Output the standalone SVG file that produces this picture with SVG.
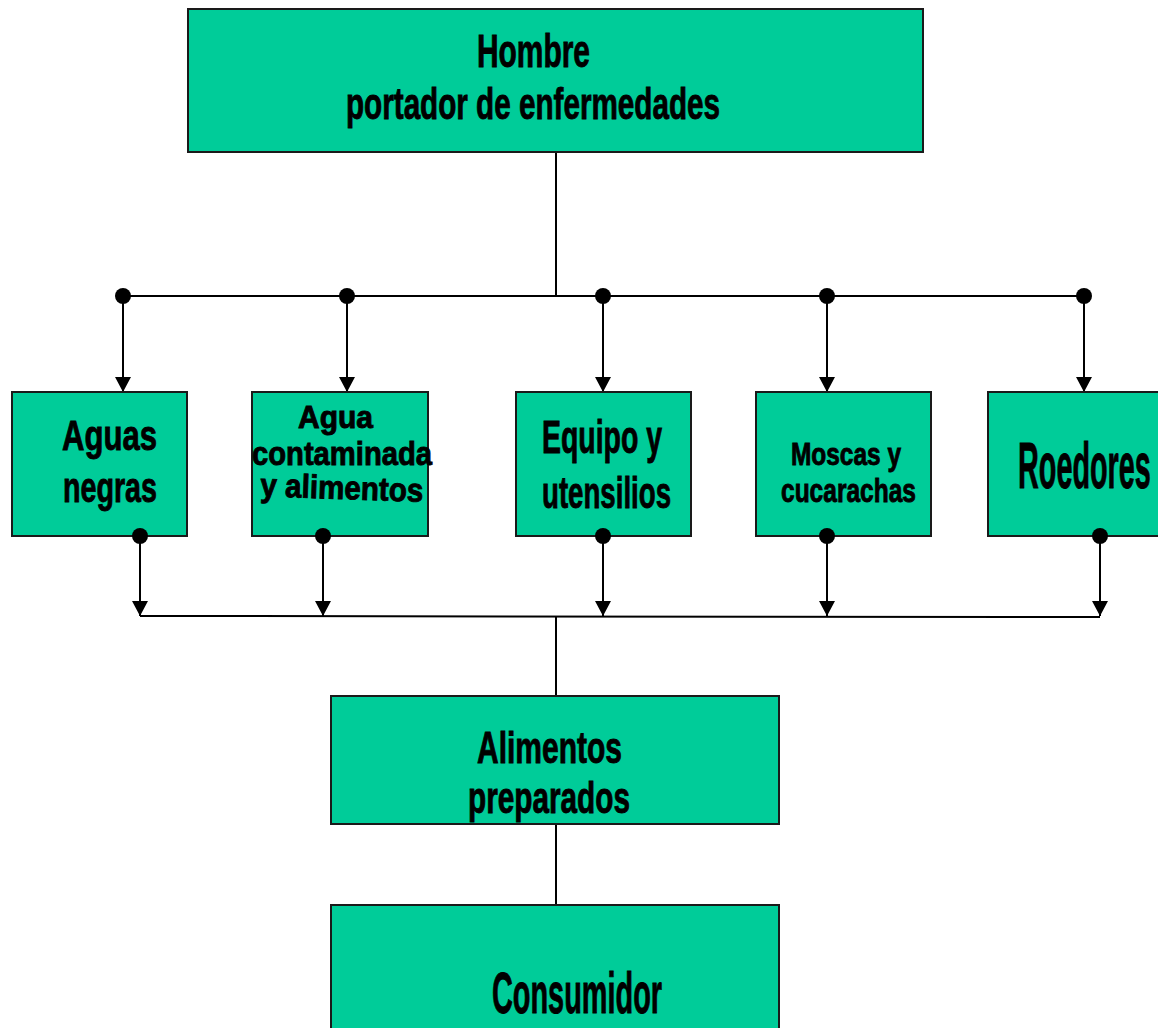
<svg xmlns="http://www.w3.org/2000/svg" width="1158" height="1028" viewBox="0 0 1158 1028">
  <style>
    .box { fill: #00CC99; stroke: #1a1a1a; stroke-width: 2; }
    .lbl { font-family: "Liberation Sans", Arial, sans-serif; font-weight: bold; fill: #000; stroke: #000; stroke-width: 0.9; }
    .wire { stroke: #000; stroke-width: 2; fill: none; }
    .arrow { stroke: #000; stroke-width: 2; fill: none; marker-end: url(#head); }
    .dot { fill: #000; }
  </style>
  <defs>
    <marker id="head" markerUnits="userSpaceOnUse" markerWidth="16" markerHeight="16" refX="15" refY="8" orient="auto">
      <path d="M0,0 L15,8 L0,16 Z" fill="#000"/>
    </marker>
  </defs>
  <rect width="1158" height="1028" fill="#fff"/>

  <!-- connectors: fan-out from the source, fan-in to the prepared food -->
  <g id="connectors">
    <line class="wire" x1="556" y1="152" x2="556" y2="296"/>
    <line class="wire" x1="123" y1="296" x2="1084" y2="296"/>
    <line class="arrow" x1="123" y1="296" x2="123" y2="392"/>
    <line class="arrow" x1="347" y1="296" x2="347" y2="392"/>
    <line class="arrow" x1="603" y1="296" x2="603" y2="392"/>
    <line class="arrow" x1="827" y1="296" x2="827" y2="392"/>
    <line class="arrow" x1="1084" y1="296" x2="1084" y2="392"/>
    <circle class="dot" cx="123" cy="296" r="8"/>
    <circle class="dot" cx="347" cy="296" r="8"/>
    <circle class="dot" cx="603" cy="296" r="8"/>
    <circle class="dot" cx="827" cy="296" r="8"/>
    <circle class="dot" cx="1084" cy="296" r="8"/>

    <line class="arrow" x1="140" y1="536" x2="140" y2="616"/>
    <line class="arrow" x1="323" y1="536" x2="323" y2="616"/>
    <line class="arrow" x1="603" y1="536" x2="603" y2="616"/>
    <line class="arrow" x1="827" y1="536" x2="827" y2="616"/>
    <line class="arrow" x1="1100" y1="536" x2="1100" y2="616"/>
    <line class="wire" x1="140" y1="616" x2="1100" y2="617"/>
    <line class="wire" x1="556" y1="616" x2="556" y2="696"/>
    <line class="wire" x1="556" y1="824" x2="556" y2="905"/>
  </g>

  <g id="hombre">
    <rect class="box" x="188" y="9" width="735" height="143"/>
    <text class="lbl" x="533.5" y="67" font-size="46" text-anchor="middle" textLength="113" lengthAdjust="spacingAndGlyphs">Hombre</text>
    <text class="lbl" x="533" y="119" font-size="45" text-anchor="middle" textLength="374" lengthAdjust="spacingAndGlyphs">portador de enfermedades</text>
  </g>

  <g id="aguas-negras">
    <rect class="box" x="12" y="392" width="175" height="144"/>
    <text class="lbl" x="109.5" y="450" font-size="43" text-anchor="middle" textLength="95" lengthAdjust="spacingAndGlyphs">Aguas</text>
    <text class="lbl" x="110" y="502" font-size="43" text-anchor="middle" textLength="94" lengthAdjust="spacingAndGlyphs">negras</text>
  </g>

  <g id="agua-contaminada">
    <rect class="box" x="252" y="392" width="176" height="144"/>
    <text class="lbl" x="335.5" y="428" font-size="31" text-anchor="middle" textLength="75" lengthAdjust="spacingAndGlyphs">Agua</text>
    <text class="lbl" x="342" y="465" font-size="33" text-anchor="middle" textLength="180" lengthAdjust="spacingAndGlyphs">contaminada</text>
    <text class="lbl" x="341.5" y="499" font-size="33" text-anchor="middle" textLength="163" lengthAdjust="spacingAndGlyphs" transform="rotate(2 341.5 499)">y alimentos</text>
  </g>

  <g id="equipo">
    <rect class="box" x="516" y="392" width="175" height="144"/>
    <text class="lbl" x="602" y="453" font-size="46" text-anchor="middle" textLength="120" lengthAdjust="spacingAndGlyphs">Equipo y</text>
    <text class="lbl" x="606.5" y="508" font-size="44" text-anchor="middle" textLength="129" lengthAdjust="spacingAndGlyphs">utensilios</text>
  </g>

  <g id="moscas">
    <rect class="box" x="756" y="392" width="175" height="144"/>
    <text class="lbl" x="846" y="465" font-size="32" text-anchor="middle" textLength="110" lengthAdjust="spacingAndGlyphs">Moscas y</text>
    <text class="lbl" x="848.5" y="502" font-size="33" text-anchor="middle" textLength="135" lengthAdjust="spacingAndGlyphs">cucarachas</text>
  </g>

  <g id="roedores">
    <rect class="box" x="988" y="392" width="180" height="144"/>
    <!-- tall, tightly condensed label: narrowed with a horizontal scale -->
    <text class="lbl" transform="translate(1018 488) scale(0.45 1)" font-size="64">Roedores</text>
  </g>

  <g id="alimentos-preparados">
    <rect class="box" x="331" y="696" width="448" height="128"/>
    <text class="lbl" x="549.5" y="763" font-size="44" text-anchor="middle" textLength="145" lengthAdjust="spacingAndGlyphs">Alimentos</text>
    <text class="lbl" x="549" y="813" font-size="44" text-anchor="middle" textLength="162" lengthAdjust="spacingAndGlyphs">preparados</text>
  </g>

  <g id="consumidor">
    <rect class="box" x="331" y="905" width="448" height="140"/>
    <text class="lbl" x="577" y="1013" font-size="57" text-anchor="middle" textLength="170" lengthAdjust="spacingAndGlyphs">Consumidor</text>
  </g>

  <!-- junction dots on the lower edge of each source box, drawn over the boxes -->
  <g id="exit-dots">
    <circle class="dot" cx="140" cy="536" r="8"/>
    <circle class="dot" cx="323" cy="536" r="8"/>
    <circle class="dot" cx="603" cy="536" r="8"/>
    <circle class="dot" cx="827" cy="536" r="8"/>
    <circle class="dot" cx="1100" cy="536" r="8"/>
  </g>
</svg>
